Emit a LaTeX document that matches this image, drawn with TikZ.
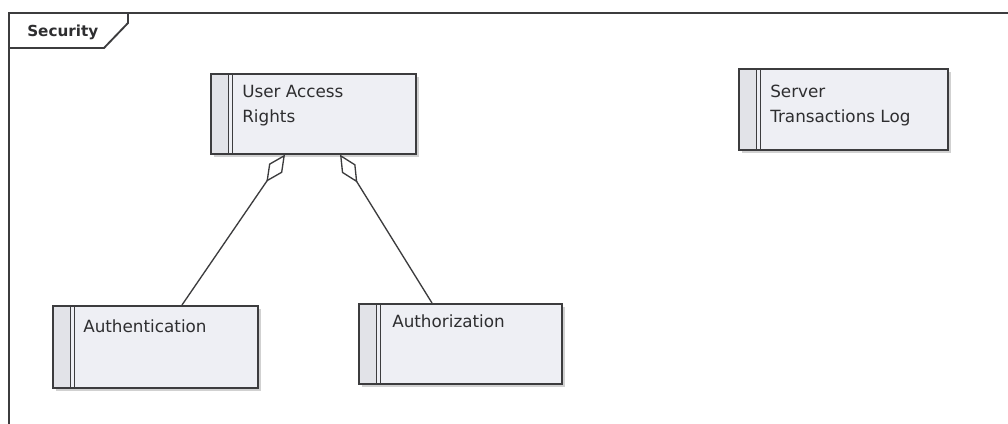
\documentclass[tikz,border=0pt]{standalone}
\usepackage{fontspec}
\setmainfont{DejaVu Sans}
\usetikzlibrary{arrows.meta,shadows,calc}

\definecolor{linec}{HTML}{3C3C3E}
\definecolor{textc}{HTML}{2E2E30}
\definecolor{boxfill}{HTML}{EEEFF4}
\definecolor{stripefill}{HTML}{E2E3E8}

\tikzset{
  classbox/.style={
    draw=linec, line width=1.2pt, fill=boxfill, inner sep=0pt, anchor=north west,
    drop shadow={shadow xshift=2.4pt, shadow yshift=-2.4pt, fill=black!40, opacity=0.45},
    path picture={
      \fill[stripefill] (path picture bounding box.north west)
        rectangle ([xshift=18*0.75pt]path picture bounding box.south west);
      \draw[linec, line width=1pt]
        ([xshift=18*0.75pt]path picture bounding box.north west)
        -- ([xshift=18*0.75pt]path picture bounding box.south west);
      \draw[linec, line width=1pt]
        ([xshift=22*0.75pt]path picture bounding box.north west)
        -- ([xshift=22*0.75pt]path picture bounding box.south west);
    }},
  % the base anchor of a two-line name sits on its last line
  classname/.style={anchor=base west, align=left, inner sep=0pt, text=textc,
    font=\fontsize{12.6pt}{18.75pt}\selectfont},
  aggr/.style={draw=linec, line width=1pt,
    -{Diamond[open, length=33*0.75pt, width=16*0.75pt, line width=1pt]}},
  frameline/.style={draw=linec, line width=1.4pt}
}

\begin{document}
\begin{tikzpicture}[x=0.75pt, y=-0.75pt]
  \useasboundingbox (0,0) rectangle (1008,424);
  \fill[white] (0,0) rectangle (1008,424);
  \clip (0,0) rectangle (1008,424);

  % package frame with its name tab
  \draw[frameline] (9,440) -- (9,13) -- (1020,13);
  \draw[frameline] (9,48) -- (104,48) -- (128,23) -- (128,13);
  \node[anchor=base west, inner sep=0pt, text=textc,
        font=\fontsize{11.4pt}{13pt}\selectfont\bfseries] (pkg) at (27,37) {Security};

  % classes
  \node[classbox, minimum width=205*0.75pt, minimum height=80*0.75pt] (uar) at (210,73) {};
  \node[classname] (uar-t) at (242,123) {User Access\\Rights};

  \node[classbox, minimum width=209*0.75pt, minimum height=81*0.75pt] (stl) at (738,68) {};
  \node[classname] (stl-t) at (770,123) {Server\\Transactions Log};

  \node[classbox, minimum width=205*0.75pt, minimum height=82*0.75pt] (auth) at (52,305) {};
  \node[classname] (auth-t) at (83,333) {Authentication};

  \node[classbox, minimum width=203*0.75pt, minimum height=80*0.75pt] (authz) at (358,303) {};
  \node[classname] (authz-t) at (392,328) {Authorization};

  % aggregations into User Access Rights
  \draw[aggr] ($(auth.north west)+(130,0)$) -- ($(uar.south west)+(75,0)$);
  \draw[aggr] ($(authz.north west)+(74,0)$) -- ($(uar.south west)+(130,0)$);
\end{tikzpicture}
\end{document}
